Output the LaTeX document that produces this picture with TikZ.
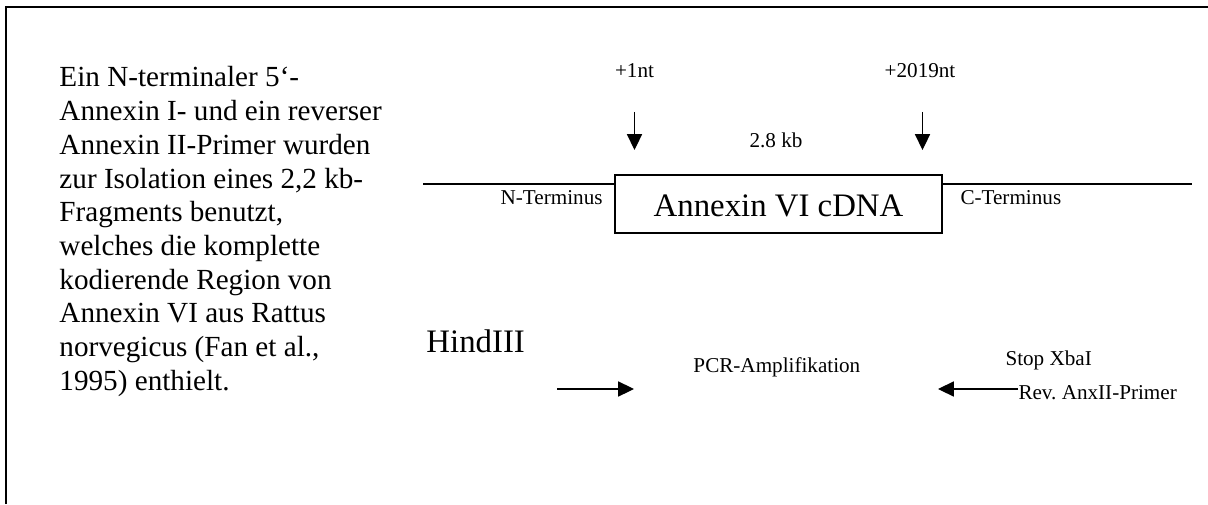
\documentclass[tikz,border=0pt]{standalone}
\usepackage{fontspec}
\setmainfont{Liberation Serif}
\usetikzlibrary{arrows.meta,positioning,calc}
\frenchspacing

\begin{document}
\begin{tikzpicture}[
  x=0.4115pt, y=-0.4115pt,
  txt/.style={inner sep=0pt,font=\fontsize{12}{13.9}\selectfont},
  lbl/.style={inner sep=0pt,font=\fontsize{8.7}{10}\selectfont},
  big/.style={inner sep=0pt,font=\fontsize{13.5}{16}\selectfont},
  cdnabox/.style={draw,line width=0.5pt,minimum width=134.6pt,minimum height=23.9pt,inner sep=0pt},
  strand/.style={line width=0.5pt},
  arr/.style={line width=0.5pt,-{Triangle[length=6.5pt,width=6.2pt]}},
  frame/.style={line width=0.8pt}
]
  \useasboundingbox (0,0) rectangle (1208,504);
  % Frame (open to the right and bottom)
  \draw[frame] (6,504) -- (6,7) -- (1208,7);
  % Description
  \foreach \ln [count=\i] in {Ein N-terminaler 5`-,
      Annexin I- und ein reverser,
      Annexin II-Primer wurden,
      {zur Isolation eines 2,2 kb-},
      {Fragments benutzt,},
      welches die komplette,
      kodierende Region von,
      Annexin VI aus Rattus,
      {norvegicus (Fan et al.,},
      1995) enthielt.}
    \node[txt,anchor=base west] (desc\i) at (59,{87+33.7*(\i-1)}) {\ln};
  % cDNA with flanking strands
  \node[cdnabox] (cdna) at (778.5,204) {};
  \node[big,anchor=base] (cdnatxt) at (778.5,216) {Annexin VI cDNA};
  \coordinate (nend) at (423,184);
  \coordinate (cend) at (1192,184);
  \draw[strand] (nend) -- (nend -| cdna.west);
  \draw[strand] (cend -| cdna.east) -- (cend);
  \node[lbl,anchor=base east] (nterm) at (603,204) {N-Terminus};
  \node[lbl,anchor=base west] (cterm) at (960,204) {C-Terminus};
  % Start and stop positions
  \node[lbl,anchor=base] (start) at (634.5,78) {+1nt};
  \node[lbl,anchor=base] (stop) at (920,78) {+2019nt};
  \node[lbl,anchor=base] (size) at (776,147) {2.8 kb};
  \coordinate (starttop) at (634.5,112);
  \coordinate (starttip) at (634.5,150);
  \coordinate (stoptop) at (922.5,112);
  \coordinate (stoptip) at (922.5,150);
  \draw[arr] (starttop) -- (starttip);
  \draw[arr] (stoptop) -- (stoptip);
  % PCR primers
  \node[big,anchor=base west] (hind) at (426,352) {HindIII};
  \node[lbl,anchor=base west] (pcr) at (693,372) {PCR-Amplifikation};
  \node[lbl,anchor=base west] (xba) at (1005,365) {Stop XbaI};
  \node[lbl,anchor=base west] (rev) at (1018,399) {Rev.\ AnxII-Primer};
  \coordinate (fwdend) at (557,389);
  \coordinate (fwdtip) at (634,389);
  \coordinate (revtip) at (938,389);
  \draw[arr] (fwdend) -- (fwdtip);
  \draw[arr] (rev.west |- revtip) -- (revtip);
\end{tikzpicture}
\end{document}
